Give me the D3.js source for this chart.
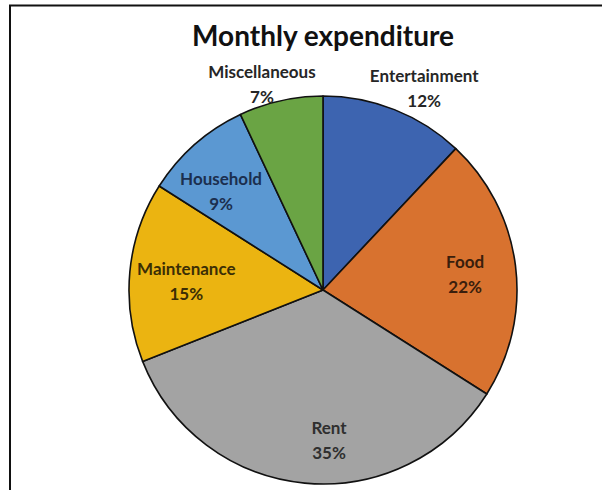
<!DOCTYPE html>
<html>
<head>
<meta charset="utf-8">
<script src="https://cdn.jsdelivr.net/npm/d3@7"></script>
<style>
  html, body { margin: 0; padding: 0; background: #ffffff; }
  svg { display: block; }
</style>
</head>
<body>
<svg id="chart"></svg>
<script>
// Slices run clockwise from 12 o'clock, in Excel's order.
const categories = ['Entertainment', 'Food', 'Rent', 'Maintenance', 'Household', 'Miscellaneous'];
const shares = [12, 22, 35, 15, 9, 7];
const percentLabels = ['12%', '22%', '35%', '15%', '9%', '7%'];

const SLICE_COLORS = ['#3d64b0', '#d8722f', '#a3a3a3', '#ebb411', '#5b98d2', '#6aa444'];
const LABEL_INK = ['#262626', '#3a1e0c', '#2f2f2f', '#3b2e05', '#1b2f4f', '#262626'];
// Excel "best fit" label placement: radius (px) and turn from slice middle (deg).
const LABEL_RADIUS = [226, 143, 150, 137, 142, 215];
const LABEL_TURN = [5, 0.8, -7.7, -1.6, -4.5, -3.9];

const WIDTH = 602;
const HEIGHT = 490;
const CX = 323;
const CY = 290;
const RADIUS = 194;
const FONT = 'Lato, "Open Sans", sans-serif';

const root = d3.select('#chart')
  .attr('width', WIDTH)
  .attr('height', HEIGHT)
  .attr('viewBox', `0 0 ${WIDTH} ${HEIGHT}`);

root.append('rect')
  .attr('width', WIDTH)
  .attr('height', HEIGHT)
  .attr('fill', '#ffffff');

// chart frame: only the top and left edges show in the crop
root.append('path')
  .attr('d', `M10,${HEIGHT} L10,5.5 L${WIDTH},5.5`)
  .attr('fill', 'none')
  .attr('stroke', '#111111')
  .attr('stroke-width', 2);

root.append('text')
  .attr('x', CX)
  .attr('y', 46)
  .attr('text-anchor', 'middle')
  .attr('fill', '#111111')
  .attr('font-size', 28)
  .attr('font-weight', 700)
  .attr('font-family', FONT)
  .text('Monthly expenditure');

const pie = d3.pie()
  .sort(null)
  .value((d) => d);

const arc = d3.arc()
  .innerRadius(0)
  .outerRadius(RADIUS);

const slices = pie(shares);

const plot = root.append('g')
  .attr('transform', `translate(${CX}, ${CY})`);

plot.selectAll('path.slice')
  .data(slices)
  .join('path')
  .attr('class', 'slice')
  .attr('d', arc)
  .attr('fill', (d, i) => SLICE_COLORS[i])
  .attr('stroke', '#111111')
  .attr('stroke-width', 1.6)
  .attr('stroke-linejoin', 'round');

const labels = plot.selectAll('g.label')
  .data(slices)
  .join('g')
  .attr('class', 'label')
  .attr('transform', (d, i) => {
    const angle = (d.startAngle + d.endAngle) / 2 + (LABEL_TURN[i] * Math.PI / 180);
    const x = Math.sin(angle) * LABEL_RADIUS[i];
    const y = -Math.cos(angle) * LABEL_RADIUS[i];
    return `translate(${x}, ${y})`;
  });

labels.append('text')
  .attr('y', -6)
  .attr('text-anchor', 'middle')
  .attr('fill', (d, i) => LABEL_INK[i])
  .attr('font-size', 17)
  .attr('font-weight', 700)
  .attr('font-family', FONT)
  .text((d, i) => categories[i]);

labels.append('text')
  .attr('y', 19)
  .attr('text-anchor', 'middle')
  .attr('fill', (d, i) => LABEL_INK[i])
  .attr('font-size', 17)
  .attr('font-weight', 700)
  .attr('font-family', FONT)
  .text((d, i) => percentLabels[i]);
</script>
</body>
</html>
